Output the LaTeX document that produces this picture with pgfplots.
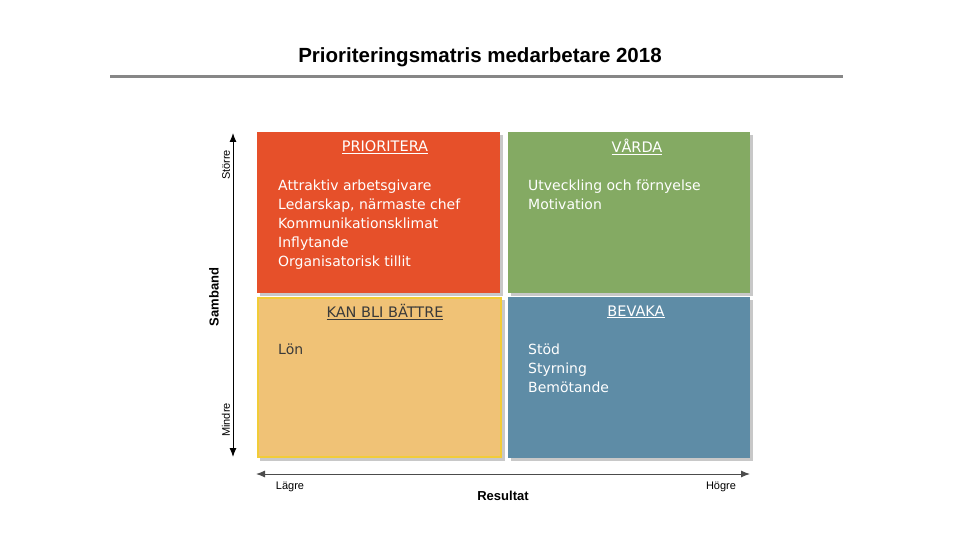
\documentclass[border=0pt]{standalone}
\usepackage{fontspec}
\setmainfont{Liberation Sans}
\newfontfamily\qfont{DejaVu Sans}
\usepackage{pgfplots}
\pgfplotsset{compat=1.18}
\usetikzlibrary{arrows.meta}
\definecolor{cred}{HTML}{E6502A}
\definecolor{cgreen}{HTML}{84AA63}
\definecolor{cyel}{HTML}{F0C276}
\definecolor{cyelb}{HTML}{F2CC38}
\definecolor{cblue}{HTML}{5E8CA6}
\definecolor{cshadow}{HTML}{C8C8C8}
\definecolor{cline}{HTML}{878787}
\definecolor{cdark}{HTML}{3A3A3A}
\begin{document}
\begin{tikzpicture}
\begin{axis}[
  width=960pt, height=540pt, scale only axis,
  xmin=0, xmax=960, ymin=0, ymax=540, y dir=reverse,
  hide axis, clip=false,
]
% background to fix bounding box
\addplot[fill=white, draw=none] coordinates {(0,0) (960,0) (960,540) (0,540)} -- cycle;
% title line
\addplot[cline, line width=3pt] coordinates {(110,77) (843,77)};
% shadows
\addplot[fill=cshadow, draw=none] coordinates {(260,135) (503,135) (503,296) (260,296)} -- cycle;
\addplot[fill=cshadow, draw=none] coordinates {(511,135) (753,135) (753,296) (511,296)} -- cycle;
\addplot[fill=cshadow, draw=none] coordinates {(260,300) (505,300) (505,461) (260,461)} -- cycle;
\addplot[fill=cshadow, draw=none] coordinates {(511,300) (753,300) (753,461) (511,461)} -- cycle;
% quadrants
\addplot[fill=cred, draw=none] coordinates {(257,132) (500,132) (500,293) (257,293)} -- cycle;
\addplot[fill=cgreen, draw=none] coordinates {(508,132) (750,132) (750,293) (508,293)} -- cycle;
\addplot[fill=cyel, draw=cyelb, line width=2pt] coordinates {(258,298) (501,298) (501,457) (258,457)} -- cycle;
\addplot[fill=cblue, draw=none] coordinates {(508,297) (750,297) (750,458) (508,458)} -- cycle;
% arrows
\addplot[black, line width=1pt, {Latex[length=9pt,width=7pt]}-{Latex[length=9pt,width=7pt]}] coordinates {(233,133) (233,457)};
\addplot[black!70, line width=1pt, {Latex[length=9pt,width=7pt]}-{Latex[length=9pt,width=7pt]}] coordinates {(256,474) (750,474)};
% title
\node[font=\fontsize{20.5}{24}\selectfont\bfseries] at (axis cs:480,57) {Prioriteringsmatris medarbetare 2018};
% axis labels
\node[rotate=90, font=\fontsize{11}{13}\selectfont] at (axis cs:226,165) {Större};
\node[rotate=90, font=\fontsize{13}{15}\selectfont\bfseries] at (axis cs:214,297) {Samband};
\node[rotate=90, font=\fontsize{11}{13}\selectfont] at (axis cs:226,420) {Mindre};
\node[font=\fontsize{11}{13}\selectfont] at (axis cs:290,487) {Lägre};
\node[font=\fontsize{11}{13}\selectfont] at (axis cs:721,487) {Högre};
\node[font=\fontsize{13}{15}\selectfont\bfseries] at (axis cs:503,496) {Resultat};
% quadrant headers
\node[white, font=\qfont\fontsize{14.5}{17}\selectfont] at (axis cs:385,147) {\underline{PRIORITERA}};
\node[white, font=\qfont\fontsize{14.5}{17}\selectfont] at (axis cs:637,147) {\underline{VÅRDA}};
\node[cdark, font=\qfont\fontsize{14.5}{17}\selectfont] at (axis cs:385,312) {\underline{KAN BLI BÄTTRE}};
\node[white, font=\qfont\fontsize{14.5}{17}\selectfont] at (axis cs:636,312) {\underline{BEVAKA}};
% quadrant text
\node[white, anchor=north west, align=left, inner sep=0pt, font=\qfont\fontsize{14}{19}\selectfont] at (axis cs:278,180) {Attraktiv arbetsgivare\\Ledarskap, närmaste chef\\Kommunikationsklimat\\Inflytande\\Organisatorisk tillit};
\node[white, anchor=north west, align=left, inner sep=0pt, font=\qfont\fontsize{14}{19}\selectfont] at (axis cs:528,180) {Utveckling och förnyelse\\Motivation};
\node[cdark, anchor=north west, align=left, inner sep=0pt, font=\qfont\fontsize{14}{19}\selectfont] at (axis cs:278,344) {Lön};
\node[white, anchor=north west, align=left, inner sep=0pt, font=\qfont\fontsize{14}{19}\selectfont] at (axis cs:528,344) {Stöd\\Styrning\\Bemötande};
\end{axis}
\end{tikzpicture}
\end{document}
